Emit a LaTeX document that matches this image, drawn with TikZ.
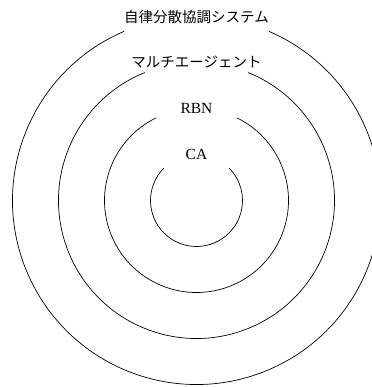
\documentclass[tikz,border=0pt]{standalone}
\usepackage{fontspec}
\setmainfont{Liberation Serif}
\newfontfamily\jpfont{Noto Sans CJK JP}
\begin{document}
\begin{tikzpicture}[x=1pt,y=1pt,
  ring/.style={draw=black,line width=0.7pt},
  jplabel/.style={anchor=base,inner sep=0pt,font=\jpfont\fontsize{14.5pt}{16pt}\selectfont},
  enlabel/.style={anchor=base,inner sep=0pt,font=\fontsize{15.5pt}{17pt}\selectfont}]
\useasboundingbox (0,0) rectangle (371,387);
\coordinate (c) at (196.5,186.5);
% rings
\draw[ring] (c) ++(113.2:184pt) arc[start angle=113.2,end angle=426.8,radius=184pt];
\draw[ring] (c) ++(112:138pt) arc[start angle=112,end angle=428,radius=138pt];
\draw[ring] (c) ++(116.2:92pt) arc[start angle=116.2,end angle=423.8,radius=92pt];
\draw[ring] (c) ++(135.5:46pt) arc[start angle=135.5,end angle=404.5,radius=46pt];
% labels
\node[jplabel] (l1) at (196.5,364.7) {自律分散協調システム};
\node[jplabel] (l2) at (196.5,319) {マルチエージェント};
\node[enlabel] (l3) at (196.5,273) {RBN};
\node[enlabel] (l4) at (196.5,227) {CA};
\end{tikzpicture}
\end{document}
